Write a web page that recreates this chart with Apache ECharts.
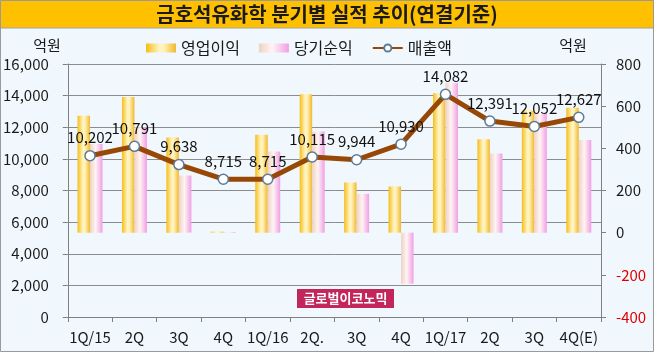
<!DOCTYPE html>
<html><head><meta charset="utf-8">
<script src="https://cdn.jsdelivr.net/npm/echarts@6/dist/echarts.min.js"></script>
<style>html,body{margin:0;padding:0;background:#F0F8FE;}#c{width:654px;height:352px;}</style>
</head><body><div id="c"></div>
<script>
const categories = ['1Q/15','2Q','3Q','4Q','1Q/16','2Q.','3Q','4Q','1Q/17','2Q','3Q','4Q(E)'];
const sales = [10202,10791,9638,8715,8715,10115,9944,10930,14082,12391,12052,12627];
const operatingProfit = [554,644,451,5,464,657,238,219,661,443,579,593];
const netProfit = [421,500,271,3,385,480,184,-242,709,375,569,439];
const leftTicks = [0,2000,4000,6000,8000,10000,12000,14000,16000];
const rightTicks = [-400,-200,0,200,400,600,800];

const FONT = '"Noto Sans CJK KR", "Noto Sans", sans-serif';
const fmt = v => String(v).replace(/\B(?=(\d{3})+(?!\d))/g, ',');
const yellowGrad = new echarts.graphic.LinearGradient(0,0,1,0,[
  {offset:0,color:'#F6BD16'},{offset:0.45,color:'#FFF5C4'},{offset:0.6,color:'#FFF2B8'},{offset:1,color:'#F2B82C'}]);
const pinkGrad = new echarts.graphic.LinearGradient(0,0,1,0,[
  {offset:0,color:'#EED2C4'},{offset:0.45,color:'#FFF4F2'},{offset:1,color:'#F09EE6'}]);

const chart = echarts.init(document.getElementById('c'), null, {renderer:'canvas'});
chart.setOption({
  backgroundColor:'#F0F8FE',
  animation:false,
  textStyle:{fontFamily:FONT},
  graphic:[
    {type:'rect',shape:{x:0,y:0,width:654,height:28},style:{fill:'#FFC000'},z:10},
    {type:'line',shape:{x1:0,y1:28,x2:654,y2:28},style:{stroke:'#A0A0A0',lineWidth:1},z:10},
    {type:'text',x:327,y:14,style:{text:'금호석유화학 분기별 실적 추이(연결기준)',fill:'#1A1A1A',font:'bold 20px '+FONT,textAlign:'center',textVerticalAlign:'middle'},z:11},
    {type:'text',x:47,y:45,style:{text:'억원',fill:'#1A1A1A',font:'15px '+FONT,textAlign:'center',textVerticalAlign:'middle'},z:11},
    {type:'text',x:573,y:45,style:{text:'억원',fill:'#1A1A1A',font:'15px '+FONT,textAlign:'center',textVerticalAlign:'middle'},z:11},
    {type:'rect',shape:{x:297,y:289,width:97,height:19},style:{fill:'#C2265A'},z:20},
    {type:'text',x:345.5,y:298.5,style:{text:'글로벌이코노믹',fill:'#FFFFFF',font:'bold 13px '+FONT,textAlign:'center',textVerticalAlign:'middle'},z:21},
    {type:'rect',shape:{x:0.5,y:0.5,width:653,height:351},style:{fill:'none',stroke:'#9A9A9A',lineWidth:1},z:30}
  ],
  legend:{
    top:35,left:141,itemWidth:30,itemHeight:9,itemGap:19,
    textStyle:{fontSize:16,color:'#1A1A1A',fontFamily:FONT},
    data:[{name:'영업이익',icon:'rect'},{name:'당기순익',icon:'rect'},{name:'매출액'}]
  },
  grid:{left:67,right:53,top:64,bottom:35,containLabel:false},
  xAxis:{
    type:'category',data:categories,
    axisLine:{show:true,lineStyle:{color:'#808080',width:1}},
    axisTick:{show:true,alignWithLabel:false,length:5,lineStyle:{color:'#808080'}},
    axisLabel:{color:'#1A1A1A',fontSize:15,margin:13,fontFamily:FONT,interval:0}
  },
  yAxis:[
    {type:'value',min:0,max:16000,interval:2000,position:'left',
     axisLine:{show:true,lineStyle:{color:'#808080'}},
     axisTick:{show:true,length:5,lineStyle:{color:'#808080'}},
     axisLabel:{color:'#1A1A1A',fontSize:15,margin:19,fontFamily:FONT,formatter:v=>fmt(v)},
     splitLine:{show:true,lineStyle:{color:'#8C8C8C',width:1}}},
    {type:'value',min:-400,max:800,interval:200,position:'right',
     axisLine:{show:true,lineStyle:{color:'#808080'}},
     axisTick:{show:true,length:5,lineStyle:{color:'#808080'}},
     axisLabel:{fontSize:15,margin:15,fontFamily:FONT,color:v=>Number(v)<0?'#E00000':'#1A1A1A'},
     splitLine:{show:false}}
  ],
  series:[
    {name:'영업이익',type:'bar',yAxisIndex:1,data:operatingProfit,barWidth:12.5,barGap:'0%',
     itemStyle:{color:yellowGrad},z:2},
    {name:'당기순익',type:'bar',yAxisIndex:1,data:netProfit,barWidth:12.5,barGap:'0%',
     itemStyle:{color:pinkGrad},z:2},
    {name:'매출액',type:'line',yAxisIndex:0,data:sales,
     lineStyle:{color:'#974806',width:5},
     itemStyle:{color:'#FFFFFF',borderColor:'#5B7C9C',borderWidth:1.5},
     symbol:'circle',symbolSize:10,showAllSymbol:true,z:5,
     label:{show:true,position:'top',distance:5,fontSize:15,color:'#111',fontFamily:FONT,formatter:p=>fmt(p.value)}}
  ]
});
</script></body></html>
